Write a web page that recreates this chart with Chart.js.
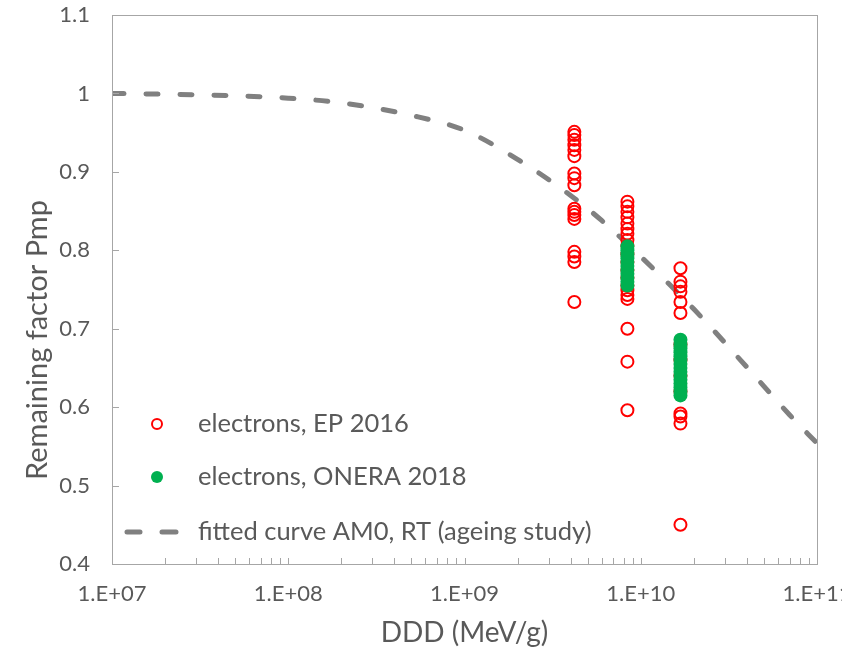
<!DOCTYPE html>
<html>
<head>
<meta charset="utf-8">
<script src="https://cdn.jsdelivr.net/npm/chart.js@4/dist/chart.umd.min.js"></script>
<style>
  html, body { margin: 0; padding: 0; background: #fff; }
  #wrap { width: 842px; height: 653px; }
</style>
</head>
<body>
<div id="wrap"><canvas id="pmp-chart" width="842" height="653"></canvas></div>
<script>
// dose levels (MeV/g) of the three irradiation steps
const doseLevels = [4.2e9, 8.4e9, 1.68e10];

// EP 2016 electron results, one list per dose level
const ep2016Step1 = [0.951, 0.947, 0.941, 0.934, 0.928, 0.920, 0.898, 0.892, 0.883,
  0.853, 0.849, 0.845, 0.840, 0.798, 0.792, 0.785, 0.734];
const ep2016Step2 = [0.862, 0.856, 0.849, 0.842, 0.834, 0.827, 0.821, 0.813, 0.806,
  0.795, 0.785, 0.775, 0.765, 0.755, 0.749, 0.743, 0.738, 0.700, 0.658, 0.596];
const ep2016Step3 = [0.777, 0.760, 0.754, 0.747, 0.734, 0.720, 0.680, 0.660, 0.640,
  0.620, 0.592, 0.588, 0.579, 0.450];

// ONERA 2018 electron results
const onera2018Step2 = [0.805, 0.800, 0.795, 0.790, 0.785, 0.780, 0.775, 0.770,
  0.765, 0.760, 0.755];
const onera2018Step3 = [0.686, 0.680, 0.675, 0.670, 0.665, 0.660, 0.655, 0.650,
  0.645, 0.640, 0.635, 0.630, 0.625, 0.620, 0.615];

// fitted curve AM0, RT (ageing study)
const fitDose = [1e7, 2e7, 5e7, 1e8, 2e8, 5e8, 1e9, 2e9, 4e9, 6e9, 1e10, 2e10, 4e10, 7e10, 1e11];
const fitFactor = [1.000, 0.999, 0.997, 0.994, 0.988, 0.972, 0.953, 0.916, 0.870, 0.838,
  0.792, 0.725, 0.651, 0.590, 0.554];

const xTickValues = [1e7, 1e8, 1e9, 1e10, 1e11];
const xTickLabels = ['1.E+07', '1.E+08', '1.E+09', '1.E+10', '1.E+11'];

const legendLabels = ['electrons, EP 2016', 'electrons, ONERA 2018', 'fitted curve AM0, RT (ageing study)'];

const textColor = '#595959';
const axisColor = '#A6A6A6';
const fontFamily = 'Lato, "Open Sans", sans-serif';

function toPoints(dose, values) {
  return values.map(v => ({ x: dose, y: v }));
}

const epData = [].concat(
  toPoints(doseLevels[0], ep2016Step1),
  toPoints(doseLevels[1], ep2016Step2),
  toPoints(doseLevels[2], ep2016Step3)
);
const oneraData = [].concat(
  toPoints(doseLevels[1], onera2018Step2),
  toPoints(doseLevels[2], onera2018Step3)
);
const fitData = fitDose.map((d, i) => ({ x: d, y: fitFactor[i] }));

// plot frame, inside tick marks, axis titles and legend
const decorPlugin = {
  id: 'decor',
  afterDatasetsDraw(chart) {
    const { ctx, chartArea: a, scales } = chart;
    const xs = scales.x, ys = scales.y;
    ctx.save();
    ctx.strokeStyle = axisColor;
    ctx.lineWidth = 1;
    ctx.strokeRect(Math.round(a.left) + 0.5, Math.round(a.top) + 0.5,
      Math.round(a.right - a.left), Math.round(a.bottom - a.top));

    ctx.beginPath();
    // log minor ticks along the bottom
    for (let e = 7; e < 11; e++) {
      for (let m = 1; m < 10; m++) {
        const px = Math.round(xs.getPixelForValue(m * Math.pow(10, e))) + 0.5;
        ctx.moveTo(px, a.bottom);
        ctx.lineTo(px, a.bottom - 6);
      }
    }
    ys.ticks.forEach(t => {
      const py = Math.round(ys.getPixelForValue(t.value)) + 0.5;
      ctx.moveTo(a.left, py);
      ctx.lineTo(a.left + 7, py);
    });
    ctx.stroke();

    // axis titles
    ctx.fillStyle = textColor;
    ctx.font = '28px ' + fontFamily;
    ctx.textAlign = 'center';
    ctx.textBaseline = 'middle';
    ctx.fillText('DDD (MeV/g)', (a.left + a.right) / 2, 633);
    ctx.save();
    ctx.translate(38, 340);
    ctx.rotate(-Math.PI / 2);
    ctx.font = '29px ' + fontFamily;
    ctx.fillText('Remaining factor Pmp', 0, 0);
    ctx.restore();

    // legend
    const rows = [424, 477, 532];
    const ds = chart.data.datasets;
    ctx.font = '25.5px ' + fontFamily;
    ctx.textAlign = 'left';
    ctx.fillStyle = textColor;
    legendLabels.forEach((label, i) => ctx.fillText(label, 198, rows[i]));

    ctx.beginPath();
    ctx.arc(157, rows[0], 5, 0, Math.PI * 2);
    ctx.strokeStyle = ds[0].borderColor;
    ctx.lineWidth = 2;
    ctx.stroke();

    ctx.beginPath();
    ctx.arc(157, rows[1], 6, 0, Math.PI * 2);
    ctx.fillStyle = ds[1].backgroundColor;
    ctx.fill();

    ctx.beginPath();
    ctx.strokeStyle = ds[2].borderColor;
    ctx.lineWidth = 5;
    ctx.lineCap = 'round';
    ctx.moveTo(127, rows[2]); ctx.lineTo(140, rows[2]);
    ctx.moveTo(162, rows[2]); ctx.lineTo(176, rows[2]);
    ctx.stroke();
    ctx.restore();
  }
};

const ctx = document.getElementById('pmp-chart').getContext('2d');
const pmpChart = new Chart(ctx, {
  type: 'scatter',
  data: {
    datasets: [{
      label: legendLabels[0],
      data: epData,
      order: 1,
      pointStyle: 'circle',
      pointRadius: 6,
      pointBorderWidth: 2,
      borderColor: '#FF0000',
      backgroundColor: 'rgba(255,255,255,0)'
    }, {
      label: legendLabels[1],
      data: oneraData,
      order: 0,
      pointRadius: 7,
      pointBorderWidth: 0,
      borderColor: '#00B050',
      backgroundColor: '#00B050'
    }, {
      label: legendLabels[2],
      type: 'line',
      data: fitData,
      order: 2,
      showLine: true,
      pointRadius: 0,
      borderColor: '#808080',
      borderWidth: 5,
      borderDash: [12, 22],
      borderCapStyle: 'round',
      cubicInterpolationMode: 'monotone',
      fill: false
    }]
  },
  options: {
    responsive: false,
    animation: false,
    layout: { padding: { left: 0, top: 15, right: 25, bottom: 0 } },
    plugins: {
      legend: { display: false },
      tooltip: { enabled: false }
    },
    scales: {
      x: {
        type: 'logarithmic',
        min: 1e7,
        max: 1e11,
        afterFit(s) { s.height = 89; s.paddingLeft = 0; s.paddingRight = 0; },
        afterBuildTicks(s) { s.ticks = xTickValues.map(v => ({ value: v, major: true })); },
        grid: { display: false, drawTicks: false },
        border: { display: false },
        ticks: {
          autoSkip: false,
          maxRotation: 0,
          padding: 17,
          color: textColor,
          font: { family: fontFamily, size: 22 },
          callback: (v) => xTickLabels[xTickValues.indexOf(v)] || ''
        }
      },
      y: {
        min: 0.4,
        max: 1.1,
        afterFit(s) { s.width = 112; s.paddingTop = 0; s.paddingBottom = 0; },
        grid: { display: false, drawTicks: false },
        border: { display: false },
        ticks: {
          stepSize: 0.1,
          padding: 22,
          color: textColor,
          font: { family: fontFamily, size: 22 },
          callback: (v) => String(Number(v.toFixed(1)))
        }
      }
    }
  },
  plugins: [decorPlugin]
});
</script>
</body>
</html>
